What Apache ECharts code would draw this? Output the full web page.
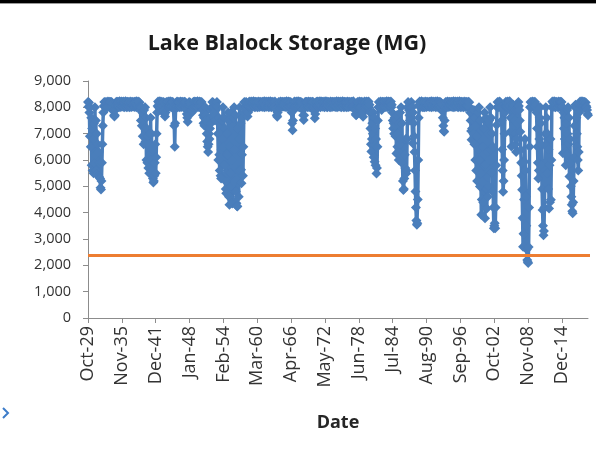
<!DOCTYPE html>
<html><head><meta charset="utf-8">
<script src="https://cdn.jsdelivr.net/npm/echarts@6/dist/echarts.min.js"></script>
<style>html,body{margin:0;padding:0;background:#fff}#c{width:596px;height:455px}</style>
</head><body><div id="c"></div>
<script>
// Lake Blalock storage (MG), monthly, starting Oct 1929
const storage1920s = [8200, 8020, 8180];
const storage1930s = [
  7800, 6900, 8000, 6500, 7600, 5800, 7200, 5600, 6800, 5500, 7400, 5900,
  8000, 6200, 7500, 5600, 7000, 5450, 6600, 5400, 6300, 5350, 5900, 5300,
  4950, 4880, 5200, 5900, 6600, 7300, 7800, 8050, 8200, 8020, 8190, 8000,
  8200, 8020, 8180, 8000, 8220, 8050, 8190, 8010, 8210, 8040, 8200, 8030,
  8200, 8020, 8150, 8000, 7850, 7700, 7650, 7700, 7900, 8050, 8210, 8030,
  8050, 8210, 8010, 8190, 8040, 8230, 8000, 8180, 8060, 8220, 8020, 8200,
  8180, 8030, 8220, 8000, 8170, 8050, 8230, 8020, 8190, 8000, 8210, 8060,
  8200, 8020, 8180, 8000, 8220, 8050, 8190, 8010, 8210, 8040, 8200, 8030,
  8050, 8210, 8010, 8190, 8040, 8230, 8000, 8180, 8060, 8220, 8020, 8200,
  8180, 8030, 7900, 7500, 8000, 7300, 7800, 6900, 7500, 6600, 7900, 7200
];
const storage1940s = [
  8000, 6700, 7600, 6000, 7200, 5900, 6900, 5700, 6600, 5500, 7000, 6200,
  7600, 6000, 7000, 5600, 6400, 5300, 5150, 5200, 5400, 5900, 6600, 5500,
  6100, 7000, 7800, 8050, 8220, 8000, 8170, 8050, 8230, 8020, 8190, 8000,
  8210, 8060, 8180, 8030, 8200, 7900, 7750, 7650, 7800, 8000, 8200, 8030,
  8180, 8030, 8220, 8000, 8170, 8050, 8230, 8020, 8190, 8000, 8210, 8060,
  8200, 8050, 8000, 7300, 6500, 7400, 8000, 8180, 8030, 8220, 8000, 8170,
  8200, 8020, 8180, 8000, 8220, 8050, 8190, 8010, 8210, 8040, 8200, 8030,
  8050, 8210, 8010, 8190, 8000, 7900, 7750, 7600, 7450, 7700, 8000, 8200,
  8030, 8180, 8000, 8100, 7900, 7800, 7850, 8000, 8200, 8030, 8220, 8010,
  8050, 8210, 8010, 8190, 8040, 8230, 8000, 8180, 8060, 8220, 8020, 8200
];
const storage1950s = [
  8180, 8030, 8200, 8000, 7900, 7700, 7400, 7600, 7300, 7800, 8000, 7700,
  7500, 7000, 6700, 6500, 6300, 6600, 7000, 6800, 7200, 7600, 7400, 7900,
  8000, 8200, 8030, 8180, 8000, 7800, 7600, 7500, 7700, 7900, 8050, 8200,
  8000, 7000, 6000, 7600, 6200, 5600, 7000, 5400, 5300, 6400, 7500, 6800,
  8000, 6500, 7600, 5800, 7200, 5200, 4900, 4740, 5500, 7000, 6200, 7800,
  7500, 4600, 4300, 6500, 5500, 7800, 5000, 4500, 4350, 6000, 7600, 5200,
  8000, 6400, 5200, 7700, 4800, 4360, 4250, 4230, 5600, 7200, 4600, 6800,
  8000, 5600, 7400, 5630, 5120, 6200, 7600, 5400, 6500, 7800, 8200, 8020,
  8180, 8030, 8200, 8000, 7850, 7650, 7800, 8000, 8200, 8030, 8220, 8010,
  8180, 8030, 8220, 8000, 8170, 8050, 8230, 8020, 8190, 8000, 8210, 8060
];
const storage1960s = [
  8200, 8020, 8180, 8000, 8220, 8050, 8190, 8010, 8210, 8040, 8200, 8030,
  8050, 8210, 8010, 8190, 8040, 8230, 8000, 8180, 8060, 8220, 8020, 8200,
  8180, 8030, 8220, 8000, 8170, 8050, 8230, 8020, 8190, 8000, 8210, 8060,
  8200, 8020, 8180, 8000, 8220, 8050, 7950, 7900, 7700, 7640, 7800, 8000,
  8200, 8020, 8180, 8000, 8220, 8050, 8190, 8010, 8210, 8040, 8200, 8030,
  8050, 8210, 8010, 8190, 8040, 8230, 8000, 8180, 8060, 8220, 8020, 8200,
  8180, 8030, 8200, 8050, 7800, 7400, 7130, 7500, 7900, 8100, 8220, 8010,
  8180, 8030, 8220, 8000, 8170, 8050, 8230, 8020, 8190, 8000, 8210, 8060,
  8200, 8020, 8180, 8050, 7900, 7700, 7520, 7700, 8000, 8200, 8030, 8210,
  8200, 8020, 8180, 8000, 8220, 8050, 8190, 8010, 8210, 8040, 8200, 8030
];
const storage1970s = [
  8050, 8210, 8010, 8190, 8000, 7850, 7590, 7750, 8000, 8200, 8030, 8220,
  8050, 8210, 8010, 8190, 8040, 8230, 8000, 8180, 8060, 8220, 8020, 8200,
  8180, 8030, 8220, 8000, 8170, 8050, 8230, 8020, 8190, 8000, 8210, 8060,
  8200, 8020, 8180, 8000, 8220, 8050, 8190, 8010, 8210, 8040, 8200, 8030,
  8050, 8210, 8010, 8190, 8040, 8230, 8000, 8180, 8060, 8220, 8020, 8200,
  8180, 8030, 8220, 8000, 8170, 8050, 8230, 8020, 8190, 8000, 8210, 8060,
  8200, 8020, 8180, 8000, 8220, 8050, 8190, 8010, 8210, 8040, 8200, 8030,
  8050, 8210, 8010, 8190, 8040, 8230, 8060, 8000, 7950, 7900, 7750, 7700,
  7720, 7950, 8200, 8030, 8180, 8000, 8220, 8050, 8190, 8010, 8210, 8040,
  8200, 7800, 7640, 7800, 8050, 8220, 8000, 8180, 8060, 8220, 8020, 8200
];
const storage1980s = [
  8180, 8030, 8220, 8000, 8100, 7800, 7200, 6600, 6320, 6800, 7400, 7000,
  7800, 6100, 7600, 5930, 7200, 5800, 6800, 5490, 5700, 6500, 7500, 8000,
  8200, 8020, 8180, 8000, 8220, 8050, 7900, 8010, 8210, 8040, 8200, 8030,
  8050, 8210, 8010, 8190, 8040, 8230, 8000, 8180, 8060, 8220, 8020, 8200,
  8180, 8030, 8220, 8000, 8100, 7800, 7500, 7200, 7400, 7000, 7600, 7300,
  6900, 7500, 6250, 7700, 6500, 7000, 6300, 6000, 7400, 6600, 7800, 6800,
  8000, 6200, 7400, 5870, 5200, 4860, 4900, 5300, 6200, 5700, 6800, 5490,
  5600, 6800, 8000, 8200, 8020, 7900, 7700, 7500, 7800, 8000, 8200, 8030,
  8000, 6640, 7800, 7400, 6900, 6300, 5600, 4800, 4200, 3700, 3540, 3600,
  4500, 6000, 7600, 8100, 8220, 8000, 8170, 8050, 8230, 8020, 8190, 8000
];
const storage1990s = [
  8200, 8020, 8180, 8000, 8220, 8050, 8190, 8010, 8210, 8040, 8200, 8030,
  8050, 8210, 8010, 8190, 8040, 8230, 8000, 8180, 8060, 8220, 8020, 8200,
  8180, 8030, 8220, 8000, 8170, 8050, 8230, 8020, 8190, 8000, 8210, 8060,
  8200, 8020, 8180, 8000, 8100, 7850, 7600, 7300, 7100, 7070, 7500, 8000,
  8200, 8020, 8180, 8000, 8220, 8050, 8190, 8010, 8210, 8040, 8200, 8030,
  8050, 8210, 8010, 8190, 8040, 8230, 8000, 8180, 8060, 8220, 8020, 8200,
  8180, 8030, 8220, 8000, 8170, 8050, 8230, 8020, 8190, 8000, 8210, 8060,
  8200, 8020, 8180, 8000, 8220, 8050, 8190, 8010, 8210, 8040, 8200, 8030,
  8050, 8210, 8010, 8190, 8000, 7800, 7500, 7100, 6770, 7200, 7800, 7500,
  7000, 7900, 6600, 7600, 6000, 7300, 5600, 6900, 5200, 6500, 7800, 6400
];
const storage2000s = [
  8000, 6000, 4990, 7500, 5500, 3920, 4500, 5170, 6500, 4400, 7200, 5800,
  7800, 3790, 5800, 7600, 4900, 4160, 6300, 4600, 7000, 5000, 7500, 6000,
  8000, 6400, 7600, 5500, 7000, 4800, 6500, 4200, 3410, 3500, 3600, 3410,
  4200, 5800, 7330, 8000, 8200, 8020, 8180, 8000, 8220, 8050, 8190, 8010,
  8000, 7500, 6400, 5600, 4790, 5200, 6000, 7000, 7800, 8050, 8210, 8030,
  8180, 8030, 8220, 8000, 8170, 8050, 8230, 8050, 7600, 7100, 6510, 7000,
  7600, 8000, 8100, 8050, 7900, 7500, 7000, 6600, 6300, 6800, 7400, 7900,
  8000, 8200, 8050, 7900, 7500, 7070, 6390, 5900, 5400, 4870, 3800, 2710,
  3200, 4500, 5930, 6800, 5600, 4600, 3500, 2600, 2200, 2130, 2090, 2700,
  4200, 6500, 8000, 8200, 8020, 8180, 8000, 8220, 8050, 8190, 8010, 8210
];
const storage2010s = [
  8040, 8200, 8030, 8100, 7800, 7200, 6500, 5900, 5300, 5600, 6800, 7600,
  8000, 7400, 6600, 5800, 4900, 4100, 3500, 3140, 3300, 4200, 5600, 7000,
  8000, 6500, 7600, 5500, 7000, 4900, 6400, 4160, 5800, 4400, 6800, 4490,
  6000, 8000, 8220, 8000, 8170, 8050, 8230, 8020, 8190, 8000, 8210, 8060,
  8200, 8020, 8180, 8000, 8220, 8050, 8190, 8010, 8210, 8040, 8200, 8030,
  8000, 6260, 7800, 7200, 7600, 6800, 6300, 5800, 7400, 6200, 7900, 7000,
  8000, 6600, 7600, 5370, 6800, 5900, 5000, 4600, 4300, 4050, 3980, 4400,
  5200, 6100, 7300, 8000, 8100, 8050, 7600, 7000, 6500, 6000, 5600, 6300,
  7800, 8100, 8220, 8000, 8170, 8050, 8230, 8020, 8190, 8000, 8210, 8060,
  8200, 8020, 8180, 8050, 8000, 7900, 7750, 7700
];
const thresholdMG = 2370;
const thresholdEndMonth = 1095;
const tickLabels = ['Oct-29','Nov-35','Dec-41','Jan-48','Feb-54','Mar-60','Apr-66','May-72',
  'Jun-78','Jul-84','Aug-90','Sep-96','Oct-02','Nov-08','Dec-14'];
const monthNames = ['Jan','Feb','Mar','Apr','May','Jun','Jul','Aug','Sep','Oct','Nov','Dec'];

function monthLabel(m) {
  const t = 9 + Math.round(m);
  return monthNames[t % 12] + '-' + String((1929 + Math.floor(t / 12)) % 100).padStart(2, '0');
}
function labelToMonth(s) {
  const parts = s.split('-');
  const yy = +parts[1];
  const y = yy >= 29 ? 1900 + yy : 2000 + yy;
  return (y - 1929) * 12 + monthNames.indexOf(parts[0]) - 9;
}
const tickValues = tickLabels.map(labelToMonth);
const storage = [].concat(storage1920s, storage1930s, storage1940s, storage1950s,
  storage1960s, storage1970s, storage1980s, storage1990s, storage2000s, storage2010s);
const seriesData = storage.map((v, i) => [i, v]);
const lastMonth = storage.length - 1;

const FONT = 'Open Sans';
const chart = echarts.init(document.getElementById('c'), null, {renderer: 'canvas'});
chart.setOption({
  animation: false,
  backgroundColor: '#ffffff',
  grid: {left: 88, right: 8, top: 81, bottom: 137},
  graphic: [
    {type: 'rect', shape: {x: 0, y: 0, width: 596, height: 3}, style: {fill: '#000'}},
    {type: 'rect', shape: {x: 0, y: 3, width: 596, height: 1}, style: {fill: '#9a9a9a'}},
    {type: 'text', x: 287, y: 44, style: {text: 'Lake Blalock Storage (MG)', fill: '#1a1a1a',
      font: 'bold 21.5px "Open Sans"', textAlign: 'center', textVerticalAlign: 'middle'}},
    {type: 'polyline', shape: {points: [[3, 408], [8, 413], [3, 418]]},
      style: {stroke: '#3d7cc9', lineWidth: 2, fill: null}}
  ],
  xAxis: {
    type: 'value', min: 0, max: lastMonth,
    splitLine: {show: false},
    axisLine: {show: true, lineStyle: {color: '#8c8c8c', width: 1}},
    axisTick: {show: true, length: 5, customValues: tickValues, lineStyle: {color: '#8c8c8c'}},
    axisLabel: {customValues: tickValues, formatter: v => monthLabel(v), rotate: 90,
      fontSize: 18, fontFamily: FONT, color: '#333333', margin: 8},
    name: 'Date', nameLocation: 'middle', nameGap: 96,
    nameTextStyle: {fontFamily: FONT, fontWeight: 'bold', fontSize: 18, color: '#262626'}
  },
  yAxis: {
    type: 'value', min: 0, max: 9000, interval: 1000,
    splitLine: {show: false},
    axisLine: {show: true, lineStyle: {color: '#8c8c8c', width: 1}},
    axisTick: {show: true, length: 5, lineStyle: {color: '#8c8c8c'}},
    axisLabel: {formatter: v => v.toLocaleString('en-US'), fontSize: 14.5, fontFamily: FONT,
      color: '#333333', margin: 17}
  },
  series: [
    {type: 'line', data: seriesData, symbol: 'diamond', symbolSize: 10, showSymbol: true,
      showAllSymbol: true, lineStyle: {width: 3.5, color: '#4a7ebb'},
      itemStyle: {color: '#4a7ebb'}, z: 2},
    {type: 'line', data: [[0, thresholdMG], [thresholdEndMonth, thresholdMG]], symbol: 'none',
      clip: false, lineStyle: {width: 3, color: '#ed7d31'}, z: 3}
  ]
});
</script></body></html>
